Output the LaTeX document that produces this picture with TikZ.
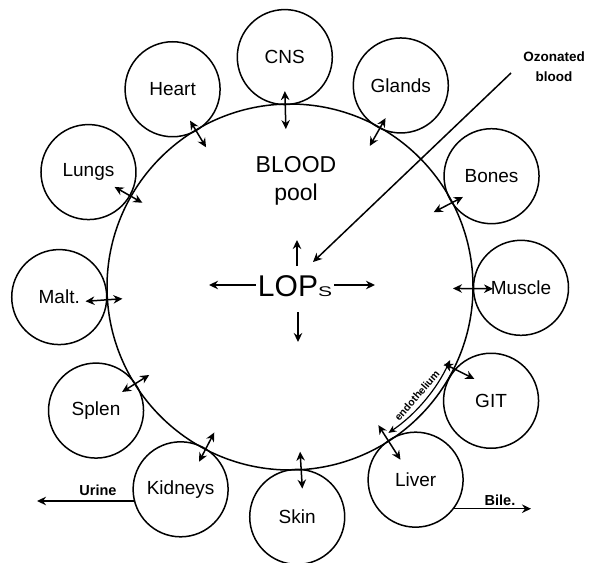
\documentclass[tikz,border=0pt]{standalone}
\usepackage{fontspec}
\usepackage{graphicx}
\setmainfont{Liberation Sans}
\usetikzlibrary{arrows.meta,calc}
\begin{document}
\begin{tikzpicture}[x=1pt,y=1pt,
  organ/.style={circle,draw,line width=1.5pt,minimum size=95pt,inner sep=0pt,font=\fontsize{19}{19}\selectfont},
  dbl/.style={{Stealth[length=9pt,width=8.5pt]}-{Stealth[length=9pt,width=8.5pt]},line width=1.5pt},
  one/.style={-{Stealth[length=9pt,width=8.5pt]},line width=1.5pt},
  smalllab/.style={font=\bfseries\fontsize{14.5}{16}\selectfont,inner sep=0pt}]
\useasboundingbox (0,0) rectangle (596,-562);
\coordinate (B) at (290,-287);
\node[circle,draw,line width=1.5pt,minimum size=366pt,inner sep=0pt] (pool) at (B) {};
% organs
\node[organ] (cns) at ($(B)+(91.3:230)$) {CNS};
\node[organ] (gla) at ($(B)+(61.2:230)$) {Glands};
\node[organ] (bon) at ($(B)+(28.8:230)$) {Bones};
\node[organ] (mus) at ($(B)+(-0.2:231)$) {Muscle};
\node[organ] (git) at ($(B)+(-29.5:231)$) {GIT};
\node[organ] (liv) at ($(B)+(-56.9:230)$) {Liver};
\node[organ] (ski) at ($(B)+(-88.2:230)$) {Skin};
\node[organ] (kid) at ($(B)+(-118.4:230)$) {Kidneys};
\node[organ] (spl) at ($(B)+(-147.5:230)$) {Splen};
\node[organ] (mal) at ($(B)+(-177.5:231)$) {Malt.};
\node[organ] (lun) at ($(B)+(150.3:232)$) {Lungs};
\node[organ] (hea) at ($(B)+(120.7:230)$) {Heart};
% exchange arrows
\draw[dbl] ($(B)+(91.5:158)$) -- ($(B)+(91.5:196)$);
\draw[dbl] ($(B)+(121:163)$) -- ($(B)+(121:194)$);
\draw[dbl] ($(B)+(150.3:170)$) -- ($(B)+(150.3:202)$);
\draw[dbl] ($(B)+(-176:168)$) -- ($(B)+(-176:205)$);
\draw[dbl] ($(B)+(-148:166)$) -- ($(B)+(-148:198)$);
\draw[dbl] ($(B)+(-117.5:164)$) -- ($(B)+(-117.5:197)$);
\draw[dbl] ($(B)+(-86.5:165)$) -- ($(B)+(-86.5:202)$);
\draw[dbl] ($(B)+(-57.4:164)$) -- ($(B)+(-57.4:205)$);
\draw[dbl] ($(B)+(-26.5:172)$) -- ($(B)+(-26.5:206)$);
\draw[dbl] ($(B)+(-0.5:163)$) -- ($(B)+(-0.5:203)$);
\draw[dbl] ($(B)+(27.5:162)$) -- ($(B)+(27.5:195)$);
\draw[dbl] ($(B)+(60.5:162)$) -- ($(B)+(60.5:194)$);
% endothelium
\draw[{Stealth[length=8pt,width=7pt]}-{Stealth[length=8pt,width=7pt]},line width=1.2pt]
  ($(B)+(-24.5:176)$) arc[start angle=-24.5,end angle=-56,radius=176];
\node[font=\bfseries\fontsize{10.5}{10.5}\selectfont,rotate=49,inner sep=0pt] (endo) at ($(B)+(-40.5:167)$) {endothelium};
% centre
\node[font=\fontsize{23}{28}\selectfont,align=center] (blood) at (296,-181) {BLOOD\\pool};
\node[inner sep=2pt,font=\fontsize{30}{30}\selectfont] (lops) at (295,-286) {LOP\scalebox{1.5}[1]{\fontsize{14}{14}\selectfont S}};
\coordinate (lopsL) at (209,-285);
\coordinate (lopsR) at (375,-285);
\coordinate (lopsU0) at (297,-266);
\coordinate (lopsU) at (297,-240);
\coordinate (lopsD0) at (298,-312);
\coordinate (lopsD) at (298,-342);
\draw[one] (lops.west |- lopsL) -- (lopsL);
\draw[one] (lops.east |- lopsR) -- (lopsR);
\draw[one] (lopsU0) -- (lopsU);
\draw[one] (lopsD0) -- (lopsD);
% ozonated blood
\node[font=\bfseries\fontsize{13.5}{20}\selectfont,align=center,inner sep=0pt] (oz) at (554,-67) {Ozonated\\blood};
\coordinate (ozs) at (511,-73);
\coordinate (oze) at (313,-262);
\draw[one] (ozs) -- (oze);
% urine / bile
\coordinate (uend) at (37,-500);
\draw[one] (kid.194.6) -- (uend |- kid.194.6);
\node[smalllab] (urine) at (98,-490) {Urine};
\coordinate (bend) at (531,-510);
\draw[one] (liv.-37) -- (bend |- liv.-37);
\node[smalllab] (bile) at (500,-500) {Bile.};
\end{tikzpicture}
\end{document}
